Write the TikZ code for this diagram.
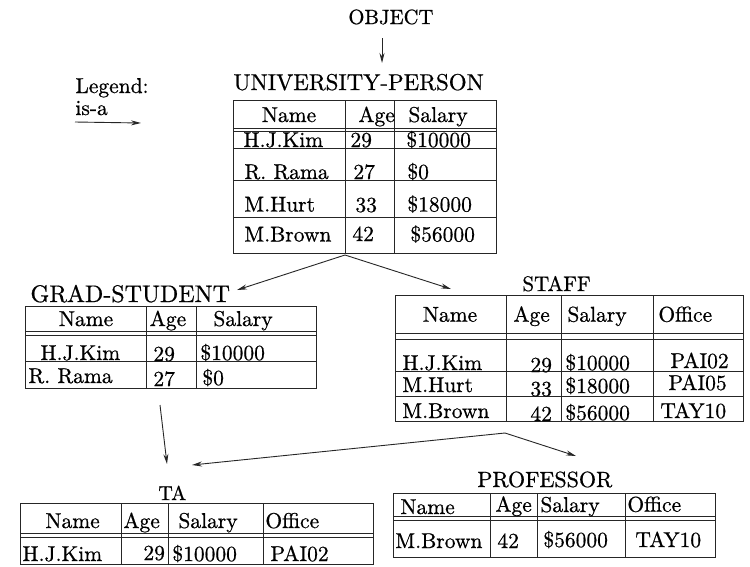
\documentclass[tikz,border=0pt]{standalone}
\usepackage{fontspec}
\setmainfont{Latin Modern Roman}[FakeBold=0.7]
\usetikzlibrary{arrows.meta}
\begin{document}
\begin{tikzpicture}[x=1pt,y=-1pt,
  tl/.style={inner sep=0pt, anchor=base west, scale=2.15},
  tc/.style={inner sep=0pt, anchor=base, scale=2.15},
  ttl/.style={inner sep=0pt, anchor=base west},
  grid/.style={line width=1pt, black!85},
  isa/.style={line width=0.9pt, black!85, -{Stealth[length=10pt,width=5pt]}}]
\fill[white] (0,0) rectangle (750,566);
\useasboundingbox (0,0) rectangle (750,566);

% OBJECT
\node[ttl, scale=2.06] (obj) at (348,24) {OBJECT};
\coordinate (objA) at (382,38);
\coordinate (objB) at (382,63);
\draw[isa] (objA) -- (objB);

% Legend
\node[tl] (leg) at (75,93) {Legend:};
\node[tl] (isalab) at (75,115) {is-a};
\coordinate (lgA) at (75,122);
\coordinate (lgB) at (141,123);
\draw[isa] (lgA) -- (lgB);

% UNIVERSITY-PERSON
\node[ttl, scale=2.29] (upt) at (233,90) {UNIVERSITY-PERSON};
\draw[grid] (233,100) rectangle (496,253);
\draw[grid] (233,128) -- (496,128) (233,131.5) -- (496,131.5)
  (233,148) -- (496,148) (233,180) -- (496,180) (233,217) -- (496,217);
\draw[grid] (345,100) -- (345,253) (394,100) -- (394,253);
\node[tc] (up-h1) at (289,122) {Name};
\node[tl] (up-h2) at (358,122) {Age};
\node[tl] (up-h3) at (408,122) {Salary};
\node[tl] (up-r1a) at (243,147) {H.J.Kim};
\node[tl] (up-r1b) at (350,147) {29};
\node[tl] (up-r1c) at (406,147) {\$10000};
\node[tl] (up-r2a) at (244,179) {R. Rama};
\node[tl] (up-r2b) at (353,179) {27};
\node[tl] (up-r2c) at (407,179) {\$0};
\node[tl] (up-r3a) at (244,211.5) {M.Hurt};
\node[tl] (up-r3b) at (355,212) {33};
\node[tl] (up-r3c) at (407,211.5) {\$18000};
\node[tl] (up-r4a) at (244,241.5) {M.Brown};
\node[tl] (up-r4b) at (352,241) {42};
\node[tl] (up-r4c) at (410,241.5) {\$56000};

% GRAD-STUDENT
\node[ttl, scale=2.4] (gst) at (30,302) {GRAD-STUDENT};
\draw[grid] (25,306) rectangle (316.7,388.3);
\draw[grid] (25,331.7) -- (316.7,331.7) (25,335) -- (316.7,335) (25,361.7) -- (316.7,361.7);
\draw[grid] (146.7,306) -- (146.7,388.3) (196.7,306) -- (196.7,388.3);
\node[tc] (gs-h1) at (86,326) {Name};
\node[tc] (gs-h2) at (168,326) {Age};
\node[tl] (gs-h3) at (213,326) {Salary};
\node[tl] (gs-r1a) at (40,360) {H.J.Kim};
\node[tl] (gs-r1b) at (153,361) {29};
\node[tl] (gs-r1c) at (200,360) {\$10000};
\node[tl] (gs-r2a) at (28,383) {R. Rama};
\node[tl] (gs-r2b) at (153,386) {27};
\node[tl] (gs-r2c) at (202,385) {\$0};

% STAFF
\node[ttl, scale=2.1] (stt) at (522,291) {STAFF};
\draw[grid] (395,295) rectangle (743,421.7);
\draw[grid] (395,333) -- (743,333) (395,339) -- (743,339)
  (395,371.7) -- (743,371.7) (395,396.7) -- (743,396.7);
\draw[grid] (506.7,295) -- (506.7,421.7) (561.7,295) -- (561.7,421.7) (653.3,295) -- (653.3,421.7);
\node[tc] (st-h1) at (450,321.7) {Name};
\node[tl] (st-h2) at (513,321.7) {Age};
\node[tl] (st-h3) at (567,321.7) {Salary};
\node[tl] (st-h4) at (658,321.7) {Office};
\node[tl] (st-r1a) at (402,370) {H.J.Kim};
\node[tl] (st-r1b) at (530,372) {29};
\node[tl] (st-r1c) at (565,370) {\$10000};
\node[tl] (st-r1d) at (670,368) {PAI02};
\node[tl] (st-r2a) at (402,392) {M.Hurt};
\node[tl] (st-r2b) at (530,396) {33};
\node[tl] (st-r2c) at (565,393) {\$18000};
\node[tl] (st-r2d) at (668,390) {PAI05};
\node[tl] (st-r3a) at (402,418) {M.Brown};
\node[tl] (st-r3b) at (530,421) {42};
\node[tl] (st-r3c) at (565,420) {\$56000};
\node[tl] (st-r3d) at (660,418) {TAY10};

% TA
\node[ttl, scale=2.0] (tat) at (158,500) {TA};
\draw[grid] (20,503.3) rectangle (373.3,564);
\draw[grid] (20,533.3) -- (373.3,533.3) (20,537.3) -- (373.3,537.3);
\draw[grid] (121.7,503.3) -- (121.7,564) (168.3,503.3) -- (168.3,564) (263.3,503.3) -- (263.3,564);
\node[tl] (ta-h1) at (45,528) {Name};
\node[tl] (ta-h2) at (123,528) {Age};
\node[tl] (ta-h3) at (178,528) {Salary};
\node[tl] (ta-h4) at (265,528) {Office};
\node[tl] (ta-r1a) at (22,561) {H.J.Kim};
\node[tl] (ta-r1b) at (143,560) {29};
\node[tl] (ta-r1c) at (172,561) {\$10000};
\node[tl] (ta-r1d) at (270,561) {PAI02};

% PROFESSOR
\node[ttl, scale=2.2] (prt) at (477,487) {PROFESSOR};
\draw[grid] (393,493.3) rectangle (715,557);
\draw[grid] (393,516.7) -- (715,516.7) (393,520) -- (715,520);
\draw[grid] (490,493.3) -- (490,557) (537.7,493.3) -- (537.7,557) (625,493.3) -- (625,557);
\node[tl] (pr-h1) at (400,514) {Name};
\node[tl] (pr-h2) at (495,511.7) {Age};
\node[tl] (pr-h3) at (540,512) {Salary};
\node[tl] (pr-h4) at (627,511.7) {Office};
\node[tl] (pr-r1a) at (395,548) {M.Brown};
\node[tl] (pr-r1b) at (497,548) {42};
\node[tl] (pr-r1c) at (543,547) {\$56000};
\node[tl] (pr-r1d) at (635,547) {TAY10};

% is-a arrows
\coordinate (upFoot) at (345,255);
\coordinate (gsHead) at (237,290);
\coordinate (stHead) at (451,289);
\coordinate (gsFoot) at (160,405);
\coordinate (taHead1) at (167,464);
\coordinate (stFoot) at (505,433);
\coordinate (taHead2) at (192,465);
\coordinate (prHead) at (576,456);
\draw[isa] (upFoot) -- (gsHead);
\draw[isa] (upFoot) -- (stHead);
\draw[isa] (gsFoot) -- (taHead1);
\draw[isa] (stFoot) -- (taHead2);
\draw[isa] (stFoot) -- (prHead);
\end{tikzpicture}
\end{document}
